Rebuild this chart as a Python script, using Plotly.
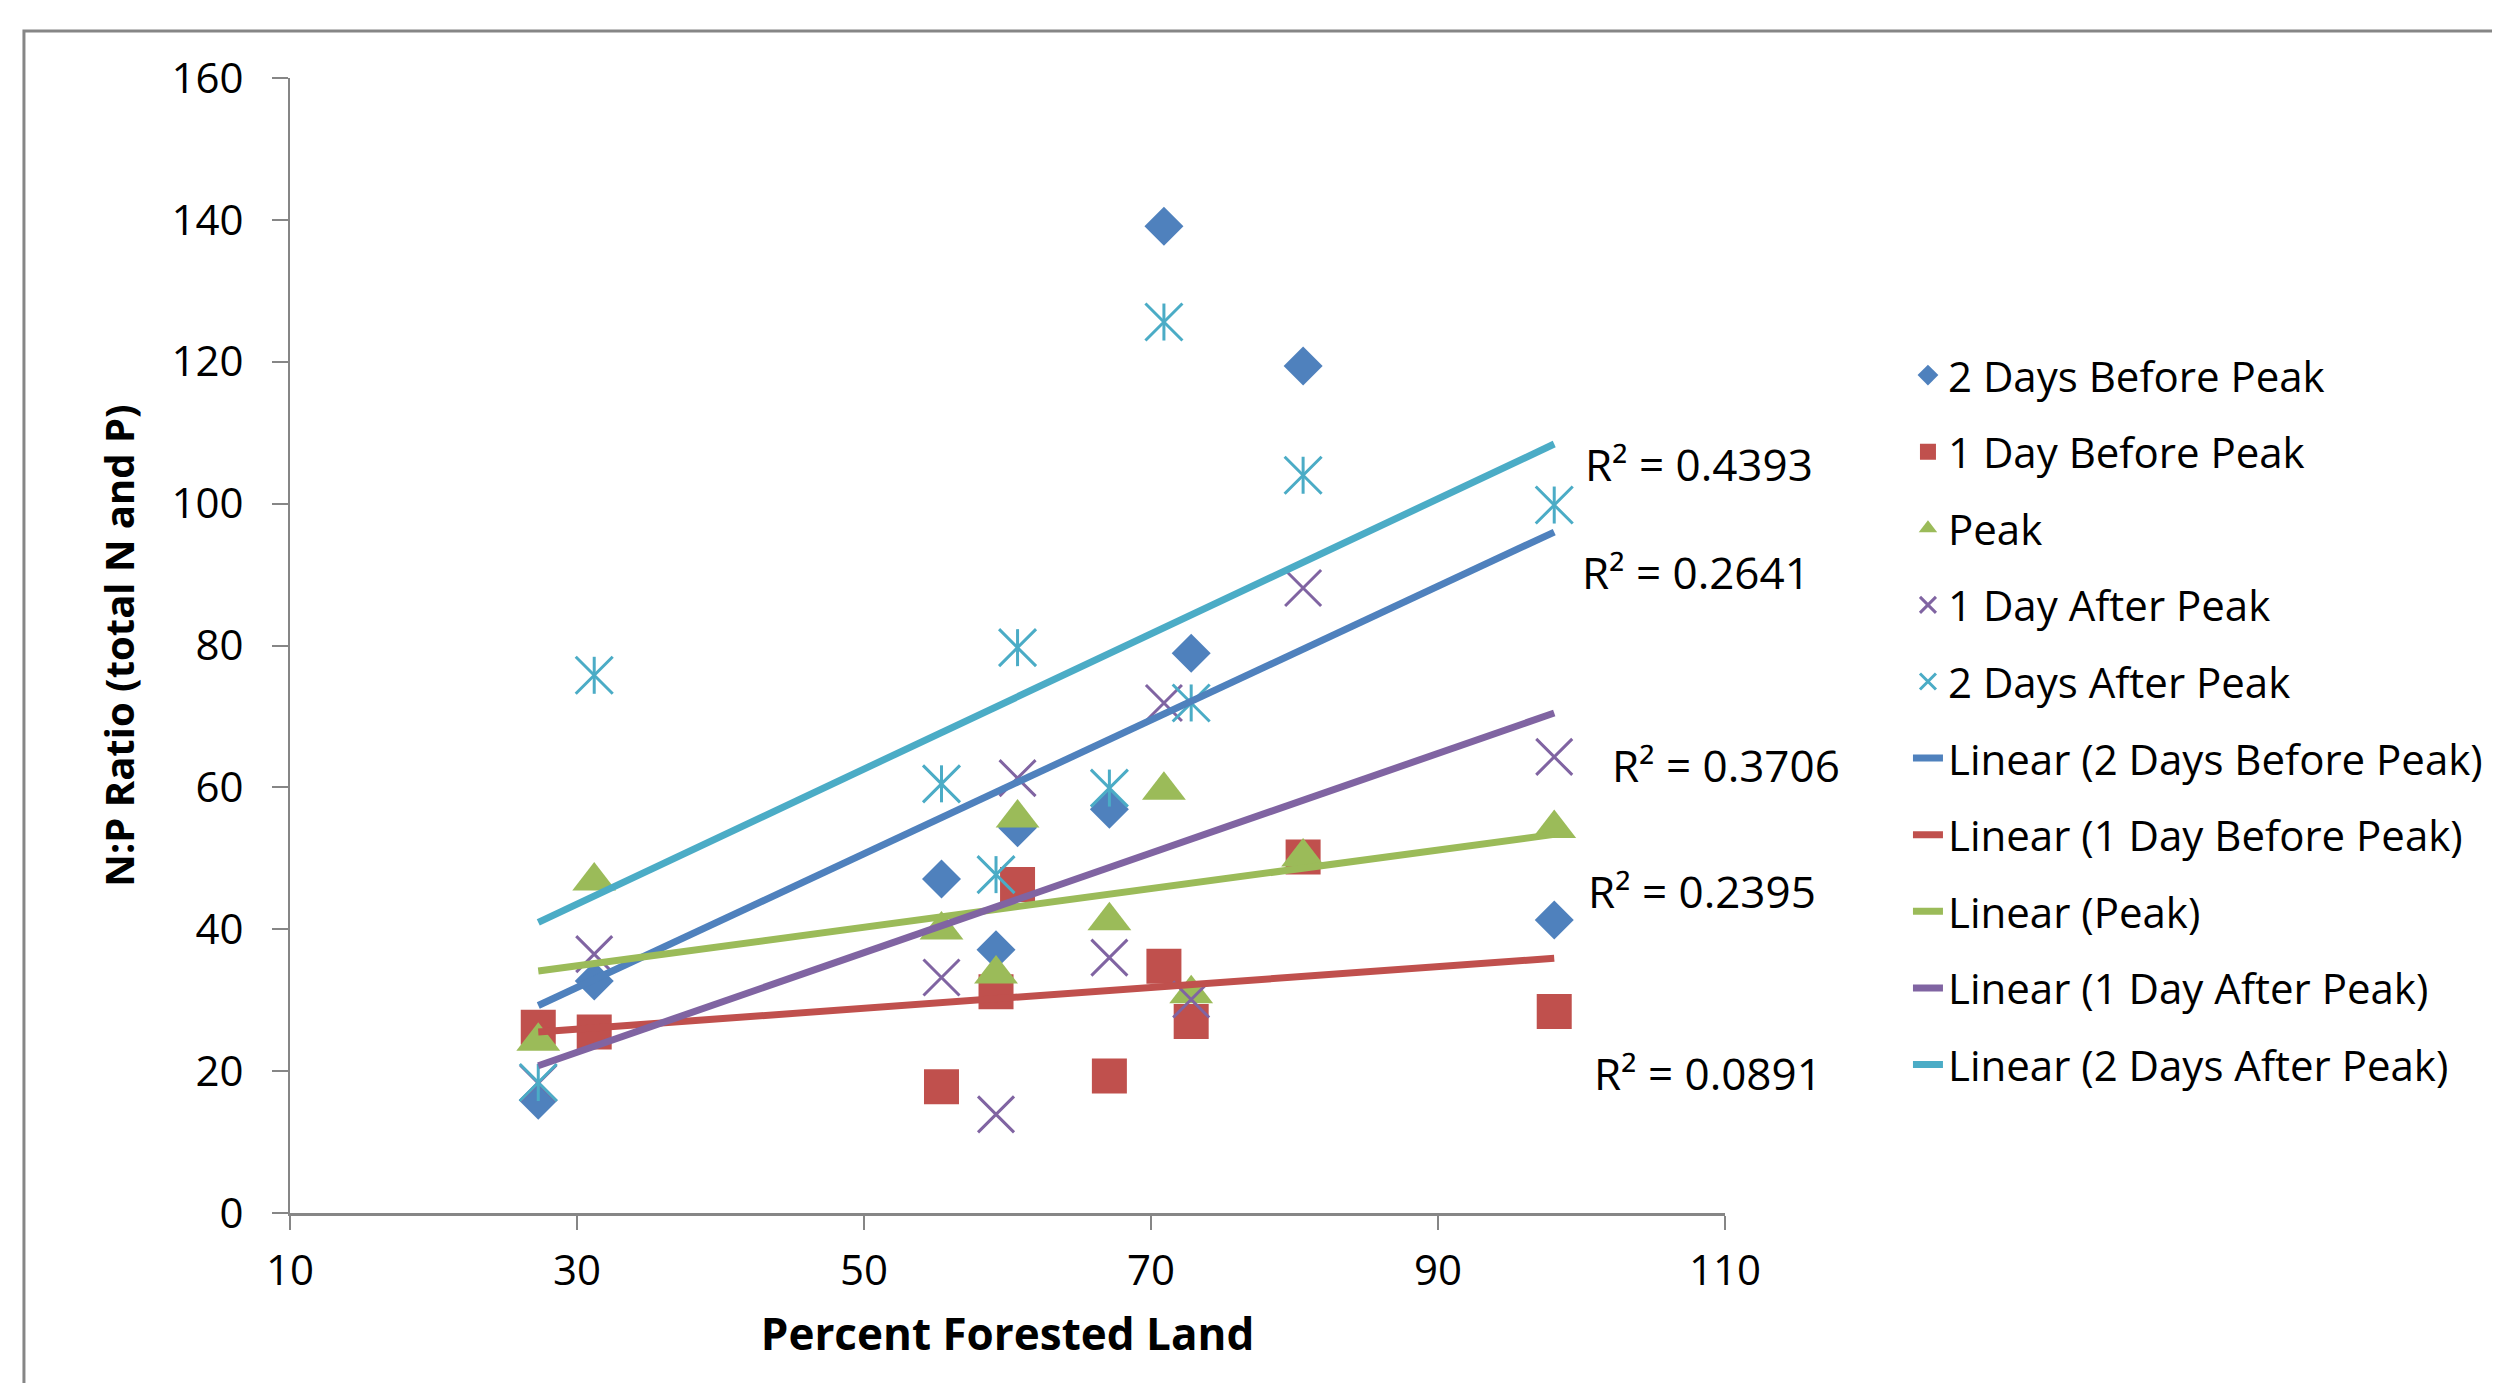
import numpy as np
import plotly.graph_objects as go

# ---------------- data ----------------
forested = [27.3, 31.2, 55.4, 59.2, 60.7, 67.1, 70.9, 72.8, 80.6, 98.1]

two_days_before = [15.9, 32.7, 47.1, 37.1, 54.3, 56.9, 139.1, 78.9, 119.4, 41.3]
one_day_before = [26.2, 25.5, 17.8, 31.2, 46.3, 19.3, 34.8, 27.0, 50.2, 28.4]
peak = [24.2, 46.8, 39.9, 33.7, 55.7, 41.2, 59.6, 30.9, 50.2, 54.2]
one_day_after = [18.3, 36.5, 33.2, 13.9, 61.3, 36.0, 71.9, 30.1, 88.1, 64.3]
two_days_after = [18.4, 75.8, 60.5, 47.7, 79.7, 59.9, 125.6, 71.9, 104.0, 99.8]

series_names = ["2 Days Before Peak", "1 Day Before Peak", "Peak",
                "1 Day After Peak", "2 Days After Peak"]
r2_labels = ["R² = 0.4393", "R² = 0.2641", "R² = 0.3706", "R² = 0.2395", "R² = 0.0891"]

x_ticks = [10, 30, 50, 70, 90, 110]
y_ticks = [0, 20, 40, 60, 80, 100, 120, 140, 160]

# ---------------- style ----------------
FONT = "Open Sans"
colors = ["#4F81BD", "#C0504D", "#9BBB59", "#8064A2", "#4BACC6"]
series_values = [two_days_before, one_day_before, peak, one_day_after, two_days_after]
symbols = ["diamond", "square", "triangle-up", "x-thin-open", "x-thin-open"]
sizes = [30, 35, 38, 36, 37]

fig = go.Figure()

# marker series
for i, (name, vals) in enumerate(zip(series_names, series_values)):
    mk = dict(symbol=symbols[i], size=sizes[i], color=colors[i])
    if symbols[i].endswith("open"):
        mk["line"] = dict(color=colors[i], width=3)
    else:
        mk["line"] = dict(width=0)
    fig.add_trace(go.Scatter(
        x=forested, y=vals, mode="markers", name=name, marker=mk,
        legendgroup=f"g{i}", cliponaxis=False,
    ))
    if i == 4:
        # vertical stroke to complete the Excel "star" marker
        fig.add_trace(go.Scatter(
            x=forested, y=vals, mode="markers", name=name,
            marker=dict(symbol="line-ns-open", size=sizes[i] / 1.4,
                        color=colors[i], line=dict(color=colors[i], width=3)),
            legendgroup=f"g{i}", showlegend=False, cliponaxis=False,
        ))

# linear trendlines
xs = np.array(forested)
for i, (name, vals) in enumerate(zip(series_names, series_values)):
    slope, intercept = np.polyfit(xs, np.array(vals), 1)
    xl = [xs.min(), xs.max()]
    yl = [slope * v + intercept for v in xl]
    fig.add_trace(go.Scatter(
        x=xl, y=yl, mode="lines", name=f"Linear ({name})",
        line=dict(color=colors[i], width=7), legendgroup=f"l{i}",
        cliponaxis=False,
    ))

# R² labels (left edge x, centre y in data units)
r2_pos = [(100.1, 105.6), (99.9, 90.4), (102.0, 63.2), (100.3, 45.4), (100.7, 19.8)]
for txt, (px, py) in zip(r2_labels, r2_pos):
    fig.add_annotation(x=px, y=py, text=txt, showarrow=False, xanchor="left",
                       yanchor="middle", font=dict(family=FONT, size=44, color="#000"))

# outer chart-area frame
fig.add_shape(type="rect", xref="paper", yref="paper",
              x0=-0.1854, y0=-0.6, x1=1.6, y1=1.0414,
              line=dict(color="#868686", width=3), layer="below")

fig.update_layout(
    width=2500, height=1383, autosize=False,
    margin=dict(l=282, r=783, t=70, b=178),
    paper_bgcolor="white", plot_bgcolor="white",
    font=dict(family=FONT, size=42, color="#000"),
    showlegend=True,
    legend=dict(x=1.1275, y=0.768, xanchor="left", yanchor="top",
                font=dict(family=FONT, size=42, color="#000"),
                tracegroupgap=19, traceorder="grouped",
                bgcolor="rgba(0,0,0,0)", itemwidth=30),
    xaxis=dict(range=[10, 110], tickvals=x_ticks, ticktext=[str(v) for v in x_ticks],
               showgrid=False, zeroline=False, showline=True, linecolor="#868686",
               linewidth=3, ticks="outside", ticklen=14, tickwidth=2, tickcolor="#868686",
               tickfont=dict(family=FONT, size=42), ticklabelstandoff=5,
               title=dict(text="Percent Forested Land", standoff=23,
                          font=dict(family=FONT, size=44, weight="bold"))),
    yaxis=dict(range=[0, 160], tickvals=y_ticks, ticktext=[str(v) for v in y_ticks],
               showgrid=False, zeroline=False, showline=True, linecolor="#868686",
               linewidth=2, ticks="outside", ticklen=16, tickwidth=2, tickcolor="#868686",
               tickfont=dict(family=FONT, size=42), ticklabelstandoff=20,
               title=dict(text="N:P Ratio (total N and P)", standoff=25,
                          font=dict(family=FONT, size=40, weight="bold"))),
)

fig.write_html("out.html")
